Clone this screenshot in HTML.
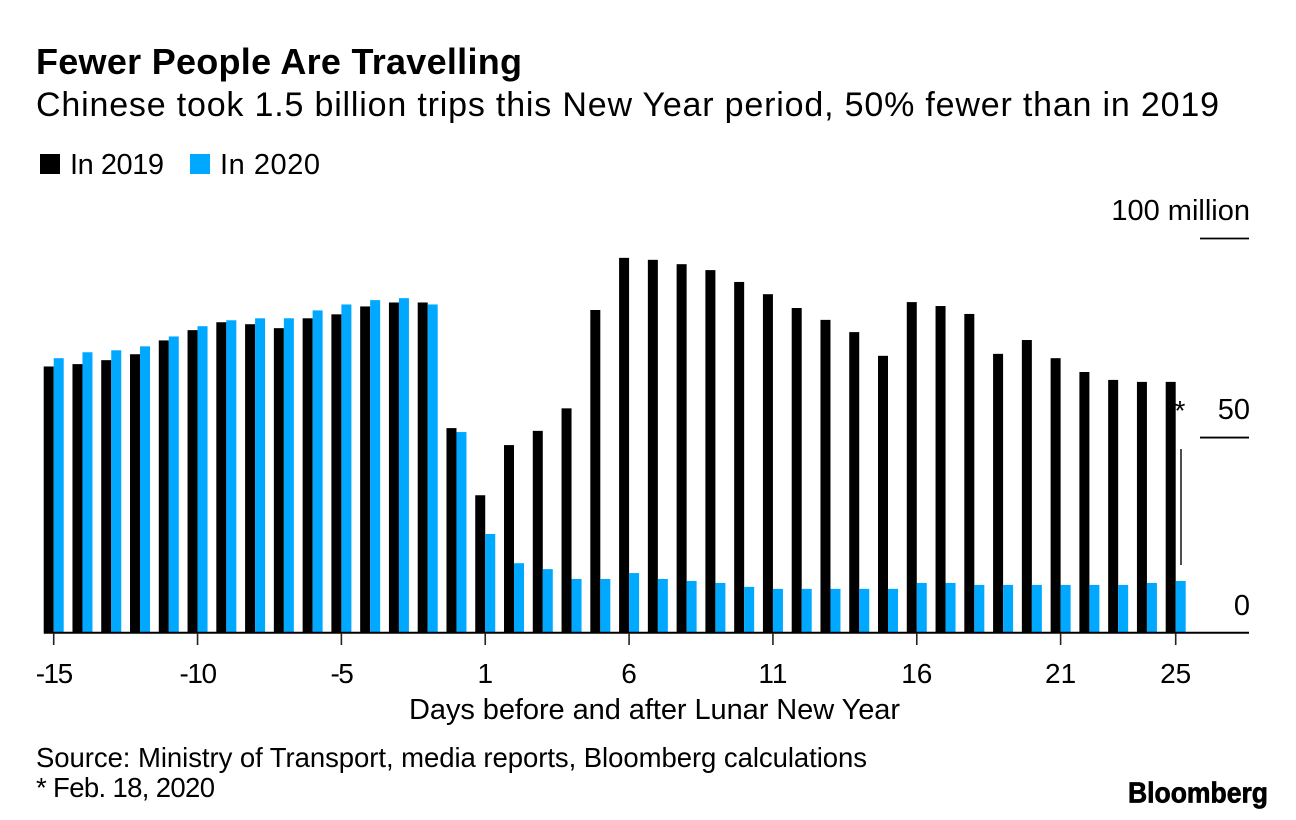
<!DOCTYPE html>
<html lang="en">
<head>
<meta charset="utf-8">
<title>Fewer People Are Travelling</title>
<style>
html,body{margin:0;padding:0;background:#fff;}
svg{display:block;}
text{font-family:"Liberation Sans",Arial,sans-serif;fill:#000;}
</style>
</head>
<body>
<svg id="chart" xmlns="http://www.w3.org/2000/svg" width="1296" height="820" viewBox="0 0 1296 820">
  <rect width="1296" height="820" fill="#fff"/>
  <text x="36" y="74" font-size="36" font-weight="700" textLength="486" lengthAdjust="spacing">Fewer People Are Travelling</text>
  <text x="36" y="116" font-size="34" textLength="1183" lengthAdjust="spacing">Chinese took 1.5 billion trips this New Year period, 50% fewer than in 2019</text>
  <g>
    <rect x="40" y="154" width="20" height="20" fill="#000"/>
    <text x="70" y="174" font-size="29" textLength="94" lengthAdjust="spacing">In 2019</text>
    <rect x="190" y="154" width="20" height="20" fill="#00a9ff"/>
    <text x="220" y="174" font-size="29" textLength="100" lengthAdjust="spacing">In 2020</text>
  </g>
  <g id="grid"></g>
  <g id="bars"></g>
  <g id="xaxis"></g>
  <text x="409" y="719" font-size="29" textLength="491" lengthAdjust="spacing">Days before and after Lunar New Year</text>
  <text x="1180" y="420" font-size="28" text-anchor="middle">*</text>
  <line x1="1181" y1="449" x2="1181" y2="565" stroke="#222" stroke-width="1.6"/>
  <text x="36" y="767" font-size="27.5" textLength="831" lengthAdjust="spacing">Source: Ministry of Transport, media reports, Bloomberg calculations</text>
  <text x="36" y="797" font-size="27.5" textLength="179" lengthAdjust="spacing">* Feb. 18, 2020</text>
  <text x="1128" y="802.5" font-size="29" font-weight="700" textLength="140" lengthAdjust="spacingAndGlyphs" stroke="#000" stroke-width="0.7">Bloomberg</text>
</svg>
<script>
var days = [-15,-14,-13,-12,-11,-10,-9,-8,-7,-6,-5,-4,-3,-2,-1,1,2,3,4,5,6,7,8,9,10,11,12,13,14,15,16,17,18,19,20,21,22,23,24,25];
var series2019 = [67.6,68.2,69.2,70.7,74.2,76.8,78.8,78.3,77.3,79.8,80.8,82.8,83.8,83.8,52,35,47.7,51.3,57,81.9,95.1,94.6,93.5,92,89,85.9,82.4,79.4,76.3,70.3,83.9,82.9,80.9,70.8,74.3,69.7,66.2,64.2,63.7,63.7];
var series2020 = [69.7,71.2,71.7,72.7,75.2,77.8,79.3,79.8,79.8,81.8,83.3,84.4,84.9,83.3,51,25.2,17.8,16.3,13.8,13.8,15.3,13.8,13.3,12.8,11.8,11.3,11.3,11.3,11.3,11.3,12.8,12.8,12.3,12.3,12.3,12.3,12.3,12.3,12.8,13.3];
var xTickDays = [-15,-10,-5,1,6,11,16,21,25];
var yTickValues = [100,49.6,0];
var yTickLabels = ["100 million","50","0"];

var NS = "http://www.w3.org/2000/svg";
function xScale(i){ return 53.7 + i * (1122 / (days.length - 1)); }
function yScale(v){ return 633.5 - v * 3.95; }
function make(tag, attrs, parent){
  var el = document.createElementNS(NS, tag);
  for (var k in attrs) el.setAttribute(k, attrs[k]);
  parent.appendChild(el);
  return el;
}
var barsG = document.getElementById("bars");
var gridG = document.getElementById("grid");
var xG = document.getElementById("xaxis");
var barW = 10;

days.forEach(function(d, i){
  var x = xScale(i);
  var b = make("rect", {x: x - barW, y: yScale(series2019[i]), width: barW, height: yScale(0) - yScale(series2019[i]), fill: "#000"}, barsG);
  
  
  var c = make("rect", {x: x, y: yScale(series2020[i]), width: barW, height: yScale(0) - yScale(series2020[i]), fill: "#00a9ff"}, barsG);
  
  
});

yTickValues.forEach(function(v, i){
  var y = yScale(v);
  if (v !== 0) {
    var g = make("line", {x1: 1200, x2: 1249, y1: y, y2: y, stroke: "#000", "stroke-width": 1.8}, gridG);
    
    
  }
  var t = make("text", {x: 1250, y: y - 18.5, "font-size": 29, "text-anchor": "end"}, gridG);
  
  
  t.textContent = yTickLabels[i];
});

var axis = make("line", {x1: 44, x2: 1249, y1: 632.8, y2: 632.8, stroke: "#000", "stroke-width": 2}, xG);



xTickDays.forEach(function(d){
  var x = xScale(days.indexOf(d));
  var tk = make("line", {x1: x, x2: x, y1: 633, y2: 645, stroke: "#222", "stroke-width": 1.6}, xG);
  
  
  var lb = make("text", {x: x, y: 683, "font-size": 28, "text-anchor": "middle"}, xG);
  
  
  if (d < 0) lb.setAttribute('letter-spacing', '-1.5');
  lb.textContent = String(d);
});
</script>
</body>
</html>
